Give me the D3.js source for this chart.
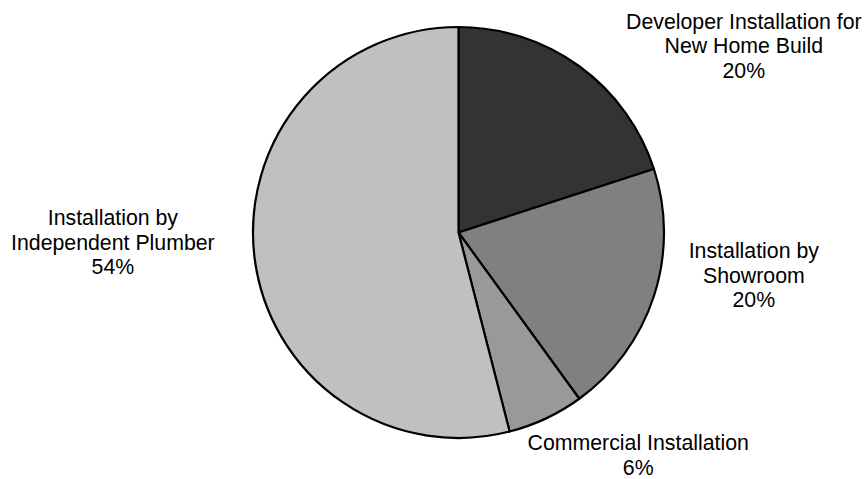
<!DOCTYPE html>
<html>
<head>
<meta charset="utf-8">
<script src="https://cdn.jsdelivr.net/npm/d3@7"></script>
<style>
  body { margin: 0; background: #ffffff; }
  svg { display: block; }
</style>
</head>
<body>
<div id="chart"></div>
<script>
// data
const categories = [
  "Developer Installation for New Home Build",
  "Installation by Showroom",
  "Commercial Installation",
  "Installation by Independent Plumber"
];
const labelLines = [
  ["Developer Installation for", "New Home Build"],
  ["Installation by", "Showroom"],
  ["Commercial Installation"],
  ["Installation by", "Independent Plumber"]
];
const shares = [20, 20, 6, 54];

const colors = ["#333333", "#808080", "#999999", "#c0c0c0"];
const width = 864;
const height = 479;
const radius = 205.5;
const cx = 458.5, cy = 232.5;
const lineHeight = 24.5;
// nudges from the label arc centroid, like excel's "best fit"
const labelNudge = [[109, 56], [10, -50], [52, -49], [-48, -28]];

const svg = d3.select("#chart")
  .append("svg")
  .attr("width", width)
  .attr("height", height);

const g = svg.append("g")
  .attr("transform", `translate(${cx}, ${cy})`);

const pieGenerator = d3.pie().sort(null).value((d) => d);
const arcGenerator = d3.arc().innerRadius(0).outerRadius(radius);
const labelArc = d3.arc().innerRadius(300).outerRadius(300);

const arcs = pieGenerator(shares);

g.selectAll("path")
  .data(arcs)
  .enter()
  .append("path")
  .attr("d", arcGenerator)
  .attr("fill", (d, i) => colors[i])
  .attr("stroke", "#000000")
  .attr("stroke-width", 2.2)
  .attr("stroke-linejoin", "round");

// labels
const labels = g.selectAll("text.lbl")
  .data(arcs)
  .enter()
  .append("text")
  .attr("class", "lbl")
  .attr("text-anchor", "middle")
  .attr("font-family", "'Liberation Sans', Arial, sans-serif")
  .attr("font-size", "21.3px")
  .attr("fill", "#000000")
  .attr("transform", (d, i) => {
    const [x, y] = labelArc.centroid(d);
    return `translate(${x + labelNudge[i][0]}, ${y + labelNudge[i][1]})`;
  });

labels.each(function (d, i) {
  const lines = labelLines[i].concat([`${d.data}%`]);
  const top = -(lines.length - 1) * lineHeight / 2;
  d3.select(this).selectAll("tspan")
    .data(lines)
    .enter()
    .append("tspan")
    .attr("x", 0)
    .attr("y", (l, j) => top + j * lineHeight)
    .attr("dy", "0.35em")
    .text((l) => l);
});
</script>
</body>
</html>
